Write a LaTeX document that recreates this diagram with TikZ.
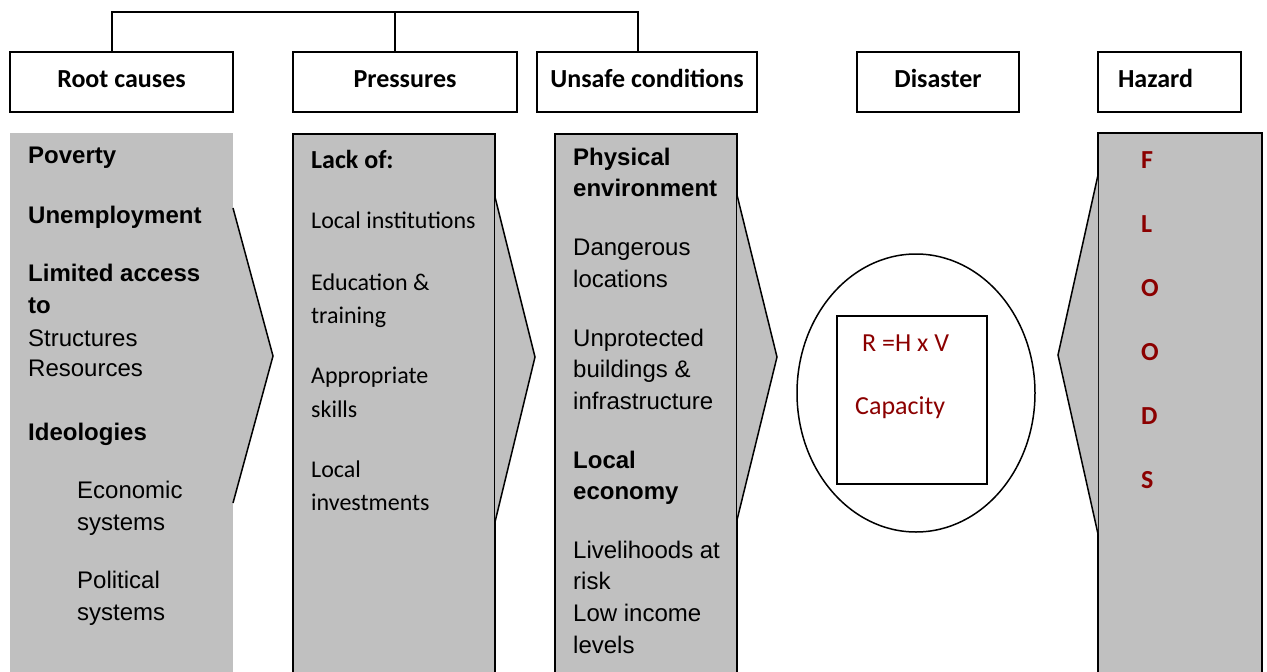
\documentclass[tikz,border=0pt]{standalone}
\usepackage{fontspec}
\newfontfamily\arialfont{Liberation Sans}
\newfontfamily\calfont{Carlito}
\definecolor{bodygray}{RGB}{192,192,192}
\definecolor{floodred}{RGB}{139,0,0}

\tikzset{
  head/.style={draw, line width=1.5pt, minimum height=60pt, inner sep=0pt,
    text height=17pt, text depth=6pt, font=\calfont\bfseries\fontsize{26}{30}\selectfont},
  outline/.style={draw=black, line width=1.5pt, line join=miter},
  arb/.style={anchor=west, inner sep=0pt, text height=17pt, text depth=0pt,
    font=\arialfont\bfseries\fontsize{24}{28}\selectfont},
  arr/.style={arb, font=\arialfont\fontsize{24}{28}\selectfont},
  cab/.style={anchor=west, inner sep=0pt, text height=16.5pt, text depth=0pt,
    font=\calfont\bfseries\fontsize{26}{30}\selectfont},
  car/.style={cab, text height=15.5pt, font=\calfont\fontsize{24}{28}\selectfont},
  flood/.style={cab, text=floodred},
  riskt/.style={cab, text height=17pt, text=floodred, font=\calfont\fontsize{26}{30}\selectfont},
}

\begin{document}
\begin{tikzpicture}[x=1pt,y=-1pt]
  \useasboundingbox (0,0) rectangle (1267,672);
  \clip (0,0) rectangle (1267,672);

  % grey columns with their pointers
  \fill[bodygray] (10,133) rectangle (233,690);
  \fill[bodygray] (233,208) -- (273,356) -- (233,503) -- cycle;
  \draw[outline] (233,208) -- (273,356) -- (233,503);

  \filldraw[fill=bodygray, outline] (293,690) -- (293,134) -- (495,134) -- (495,690);
  \filldraw[fill=bodygray, outline] (495,197) -- (535,357) -- (495,522);

  \filldraw[fill=bodygray, outline] (555,690) -- (555,134) -- (737,134) -- (737,690);
  \filldraw[fill=bodygray, outline] (737,195) -- (777,357) -- (737,520);

  \filldraw[fill=bodygray, outline] (1098,690) -- (1098,133) -- (1262,133) -- (1262,690);
  \filldraw[fill=bodygray, outline] (1098,175) -- (1058,355) -- (1098,534);

  % disaster: ellipse with the risk box
  \draw[outline] (916,393) ellipse [x radius=119, y radius=139];
  \draw[outline] (837,316) rectangle (987,484);
  \node[riskt] (rhv) at (862,343) {R =H x V};
  \node[riskt] (cap) at (855,406) {Capacity};

  % column texts
  \foreach \x/\y/\st/\txt [count=\i] in {
      28/155/arb/Poverty, 28/215/arb/Unemployment, 28/273/arb/Limited access,
      28/305/arb/to, 28/338/arr/Structures, 28/368/arr/Resources,
      28/432/arb/Ideologies, 77/490/arr/Economic, 77/522/arr/systems,
      77/580/arr/Political, 77/612/arr/systems}
    \node[\st] (root\i) at (\x,\y) {\txt};

  \foreach \y/\st/\txt [count=\i] in {
      160/cab/Lack of:, 221/car/Local institutions, 283/car/Education \&,
      316/car/training, 376/car/Appropriate, 410/car/skills,
      470/car/Local, 503/car/investments}
    \node[\st] (pres\i) at (311,\y) {\txt};

  \foreach \y/\st/\txt [count=\i] in {
      157/arb/Physical, 188/arb/environment, 247/arr/Dangerous,
      279/arr/locations, 338/arr/Unprotected, 369/arr/buildings \&,
      401/arr/infrastructure, 460/arb/Local, 491/arb/economy,
      550/arr/Livelihoods at, 581/arr/risk, 613/arr/Low income, 645/arr/levels}
    \node[\st] (unsafe\i) at (573,\y) {\txt};

  \foreach \l [count=\i] in {F,L,O,O,D,S}
    \node[flood] (flood\i) at (1141,96+64*\i) {\l};

  % headings
  \node[head, minimum width=223pt] (root) at (121.5,82) {Root causes};
  \node[head, minimum width=224pt] (pres) at (405,82) {Pressures};
  \node[head, minimum width=220pt] (unsafe) at (647,82) {Unsafe conditions};
  \node[head, minimum width=162pt] (disaster) at (938,82) {Disaster};
  \node[head, minimum width=143pt] (hazard) at (1169.5,82) {Hazard\kern28pt};

  % bracket over the first three headings
  \coordinate (bar) at (0,12);
  \draw[outline] ([xshift=-9.5pt]root.north) |- ([xshift=-9pt]unsafe.north |- bar)
    -- ([xshift=-9pt]unsafe.north);
  \draw[outline] ([xshift=-10pt]pres.north) -- ([xshift=-10pt]pres.north |- bar);
\end{tikzpicture}
\end{document}
